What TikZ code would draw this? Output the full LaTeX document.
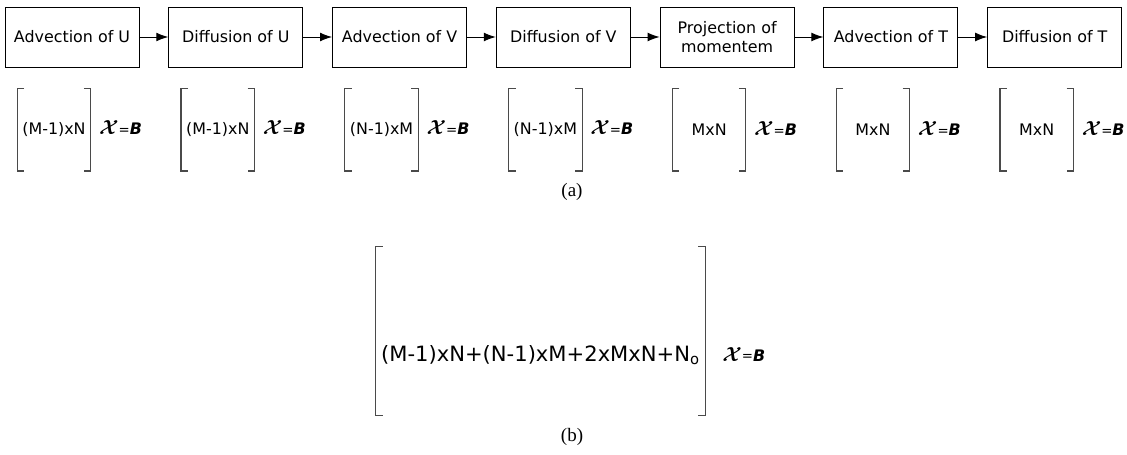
\documentclass[tikz,border=0pt]{standalone}
\usepackage{fontspec}
\usepackage{bm}
\setmainfont{DejaVu Sans}
\newfontfamily\capfont{Liberation Serif}
\usetikzlibrary{positioning,arrows.meta}
\definecolor{brkGray}{HTML}{4A4A4A}
\newcommand{\xeqb}{{\fontsize{14}{16}\selectfont$\bm{\mathcal{X}}$}\raisebox{0.3pt}{\fontsize{9.5}{11}\selectfont=}\textbf{\textit{B}}}

\begin{document}
\begin{tikzpicture}[node distance=0.72cm, every node/.style={font=\fontsize{11.3}{13.5}\selectfont},
    stage/.style={draw, line width=0.7pt, minimum width=3.35cm, minimum height=1.5cm, align=center, inner sep=2pt},
    mat/.style={minimum width=1.825cm, minimum height=2.05cm, inner sep=0pt},
    brk/.style={draw=brkGray, line width=0.8pt},
    eq/.style={inner sep=0pt},
    flow/.style={-{Latex[length=3mm,width=2.2mm]}, line width=0.7pt}]
  \useasboundingbox (0,0) rectangle (28.175,-11.375);

  % (a) solver stages
  \node[stage] (s1) at (1.8,-0.925) {Advection of U};
  \node[stage, right=of s1] (s2) {Diffusion of U};
  \node[stage, right=of s2] (s3) {Advection of V};
  \node[stage, right=of s3] (s4) {Diffusion of V};
  \node[stage, right=of s4] (s5) {Projection of\\momentem};
  \node[stage, right=of s5] (s6) {Advection of T};
  \node[stage, right=of s6] (s7) {Diffusion of T};

  \draw[flow] (s1) -- (s2);
  \draw[flow] (s2) -- (s3);
  \draw[flow] (s3) -- (s4);
  \draw[flow] (s4) -- (s5);
  \draw[flow] (s5) -- (s6);
  \draw[flow] (s6) -- (s7);

  % matrix sizes
  \node[mat, below=0.525cm of s1, xshift=-0.45cm] (m1) {(M-1)xN};
  \node[mat, below=0.525cm of s2, xshift=-0.45cm] (m2) {(M-1)xN};
  \node[mat, below=0.525cm of s3, xshift=-0.45cm] (m3) {(N-1)xM};
  \node[mat, below=0.525cm of s4, xshift=-0.45cm] (m4) {(N-1)xM};
  \node[mat, below=0.525cm of s5, xshift=-0.45cm] (m5) {MxN};
  \node[mat, below=0.525cm of s6, xshift=-0.45cm] (m6) {MxN};
  \node[mat, below=0.525cm of s7, xshift=-0.45cm] (m7) {MxN};

  \node[eq, base right=0.2cm of m1] (e1) {\xeqb};
  \node[eq, base right=0.2cm of m2] (e2) {\xeqb};
  \node[eq, base right=0.2cm of m3] (e3) {\xeqb};
  \node[eq, base right=0.2cm of m4] (e4) {\xeqb};
  \node[eq, base right=0.2cm of m5] (e5) {\xeqb};
  \node[eq, base right=0.2cm of m6] (e6) {\xeqb};
  \node[eq, base right=0.2cm of m7] (e7) {\xeqb};

  \draw[brk] ([xshift=0.175cm]m1.north west) -| (m1.south west) -- ++(0.175cm,0) ([xshift=-0.175cm]m1.north east) -| (m1.south east) -- ++(-0.175cm,0);
  \draw[brk] ([xshift=0.175cm]m2.north west) -| (m2.south west) -- ++(0.175cm,0) ([xshift=-0.175cm]m2.north east) -| (m2.south east) -- ++(-0.175cm,0);
  \draw[brk] ([xshift=0.175cm]m3.north west) -| (m3.south west) -- ++(0.175cm,0) ([xshift=-0.175cm]m3.north east) -| (m3.south east) -- ++(-0.175cm,0);
  \draw[brk] ([xshift=0.175cm]m4.north west) -| (m4.south west) -- ++(0.175cm,0) ([xshift=-0.175cm]m4.north east) -| (m4.south east) -- ++(-0.175cm,0);
  \draw[brk] ([xshift=0.175cm]m5.north west) -| (m5.south west) -- ++(0.175cm,0) ([xshift=-0.175cm]m5.north east) -| (m5.south east) -- ++(-0.175cm,0);
  \draw[brk] ([xshift=0.175cm]m6.north west) -| (m6.south west) -- ++(0.175cm,0) ([xshift=-0.175cm]m6.north east) -| (m6.south east) -- ++(-0.175cm,0);
  \draw[brk] ([xshift=0.175cm]m7.north west) -| (m7.south west) -- ++(0.175cm,0) ([xshift=-0.175cm]m7.north east) -| (m7.south east) -- ++(-0.175cm,0);

  \node[font=\capfont\fontsize{13.5}{16}\selectfont] (capa) at (14.3,-4.8) {(a)};

  % (b) combined system
  \node[anchor=base, font=\fontsize{15}{18}\selectfont, minimum width=8.225cm, text height=2.85cm, text depth=1.35cm, inner sep=0pt] (mb) at (13.5125,-9.025) {(M-1)xN+(N-1)xM+2xMxN+N\textsubscript{o}};
  \node[eq, base right=0.42cm of mb] (eb) {\xeqb};
  \draw[brk] ([xshift=0.175cm]mb.north west) -| (mb.south west) -- ++(0.175cm,0) ([xshift=-0.175cm]mb.north east) -| (mb.south east) -- ++(-0.175cm,0);

  \node[font=\capfont\fontsize{13.5}{16}\selectfont] (capb) at (14.3,-10.925) {(b)};
\end{tikzpicture}
\end{document}
